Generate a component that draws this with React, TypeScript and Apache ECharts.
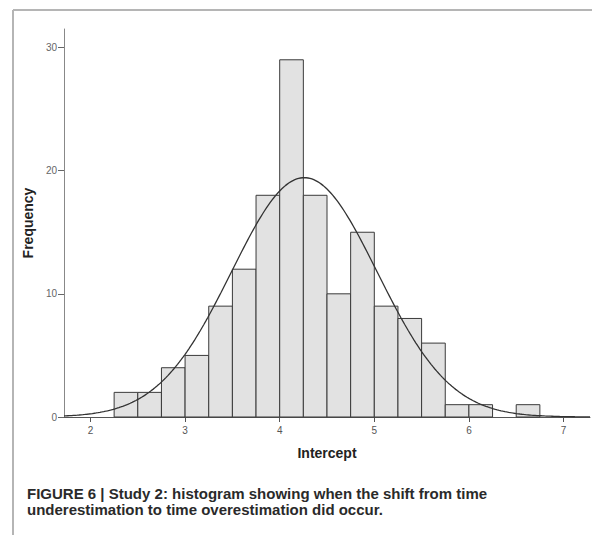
import React, { useEffect, useRef } from "react";
import * as echarts from "echarts";

// Histogram bins (lower edge, upper edge) and frequencies
const BIN_LOWER = [2.25, 2.5, 2.75, 3.0, 3.25, 3.5, 3.75, 4.0, 4.25, 4.5, 4.75, 5.0, 5.25, 5.5, 5.75, 6.0, 6.25, 6.5];
const BIN_UPPER = [2.5, 2.75, 3.0, 3.25, 3.5, 3.75, 4.0, 4.25, 4.5, 4.75, 5.0, 5.25, 5.5, 5.75, 6.0, 6.25, 6.5, 6.75];
const COUNTS = [2, 2, 4, 5, 9, 12, 18, 29, 18, 10, 15, 9, 8, 6, 1, 1, 0, 1];

// Fitted normal curve parameters (SPSS overlay)
const FIT_MEAN = 4.26;
const FIT_SD = 0.77;
const FIT_N = 150;
const BIN_WIDTH = 0.25;

const X_TICKS = [2, 3, 4, 5, 6, 7];
const Y_TICKS = [0, 10, 20, 30];

const CAPTION_1 = "FIGURE 6 | Study 2: histogram showing when the shift from time";
const CAPTION_2 = "underestimation to time overestimation did occur.";

const X_MIN = 1.72;
const X_MAX = 7.28;

export default function App() {
  const ref = useRef<HTMLDivElement>(null);
  useEffect(() => {
    if (!ref.current) return;
    const chart = echarts.init(ref.current, null, { renderer: "svg" });

    const bars = BIN_LOWER.map((lo, i) => [lo, BIN_UPPER[i], COUNTS[i]]);
    const curve: number[][] = [];
    for (let x = X_MIN; x <= X_MAX + 1e-9; x += 0.02) {
      const z = (x - FIT_MEAN) / FIT_SD;
      const y = (FIT_N * BIN_WIDTH) / (FIT_SD * Math.sqrt(2 * Math.PI)) * Math.exp(-0.5 * z * z);
      curve.push([x, y]);
    }

    const font = "'Liberation Sans', Arial, sans-serif";
    chart.setOption({
      animation: false,
      backgroundColor: "#ffffff",
      grid: { left: 64, right: 2, top: 29, bottom: 118, containLabel: false },
      xAxis: {
        type: "value",
        min: X_MIN,
        max: X_MAX,
        name: "Intercept",
        nameLocation: "middle",
        nameGap: 29,
        nameTextStyle: { fontFamily: font, fontWeight: "bold", fontSize: 14, color: "#222" },
        axisLine: { show: true, lineStyle: { color: "#555", width: 1 } },
        axisTick: { show: true, length: 5, customValues: X_TICKS, lineStyle: { color: "#555" } },
        axisLabel: { customValues: X_TICKS, fontFamily: font, fontSize: 10, color: "#555", margin: 8 },
        splitLine: { show: false },
      },
      yAxis: {
        type: "value",
        min: 0,
        max: 31.5,
        name: "Frequency",
        nameLocation: "middle",
        nameGap: 27,
        nameRotate: 90,
        nameTextStyle: { fontFamily: font, fontWeight: "bold", fontSize: 14, color: "#222" },
        axisLine: { show: true, lineStyle: { color: "#888", width: 1 } },
        axisTick: { show: true, length: 6, customValues: Y_TICKS, lineStyle: { color: "#666" } },
        axisLabel: { customValues: Y_TICKS, fontFamily: font, fontSize: 10, color: "#666", margin: 7 },
        splitLine: { show: false },
      },
      series: [
        {
          type: "custom",
          data: bars,
          encode: { x: [0, 1], y: 2 },
          renderItem: (params: any, api: any) => {
            const v = api.value(2);
            if (!v) return null;
            const p0 = api.coord([api.value(0), v]);
            const p1 = api.coord([api.value(1), 0]);
            return {
              type: "rect",
              shape: { x: p0[0], y: p0[1], width: p1[0] - p0[0], height: p1[1] - p0[1] },
              style: { fill: "#e2e2e2", stroke: "#3a3a3a", lineWidth: 1 },
            };
          },
          z: 1,
        },
        {
          type: "line",
          data: curve,
          showSymbol: false,
          symbol: "none",
          lineStyle: { color: "#333", width: 1.3 },
          z: 3,
        },
      ],
      graphic: [
        { type: "line", shape: { x1: 13, y1: 10, x2: 592, y2: 10 }, style: { stroke: "#b5b5b5", lineWidth: 2 } },
        { type: "line", shape: { x1: 13, y1: 10, x2: 13, y2: 535 }, style: { stroke: "#b5b5b5", lineWidth: 2 } },
        {
          type: "text",
          left: 27,
          top: 486,
          style: { text: CAPTION_1, fontFamily: font, fontWeight: "bold", fontSize: 15, fill: "#2a2a2a" },
        },
        {
          type: "text",
          left: 27,
          top: 502,
          style: { text: CAPTION_2, fontFamily: font, fontWeight: "bold", fontSize: 15, fill: "#2a2a2a" },
        },
      ],
    });
    return () => chart.dispose();
  }, []);
  return <div ref={ref} style={{ position: "fixed", left: 0, top: 0, width: 592, height: 535 }} />;
}
